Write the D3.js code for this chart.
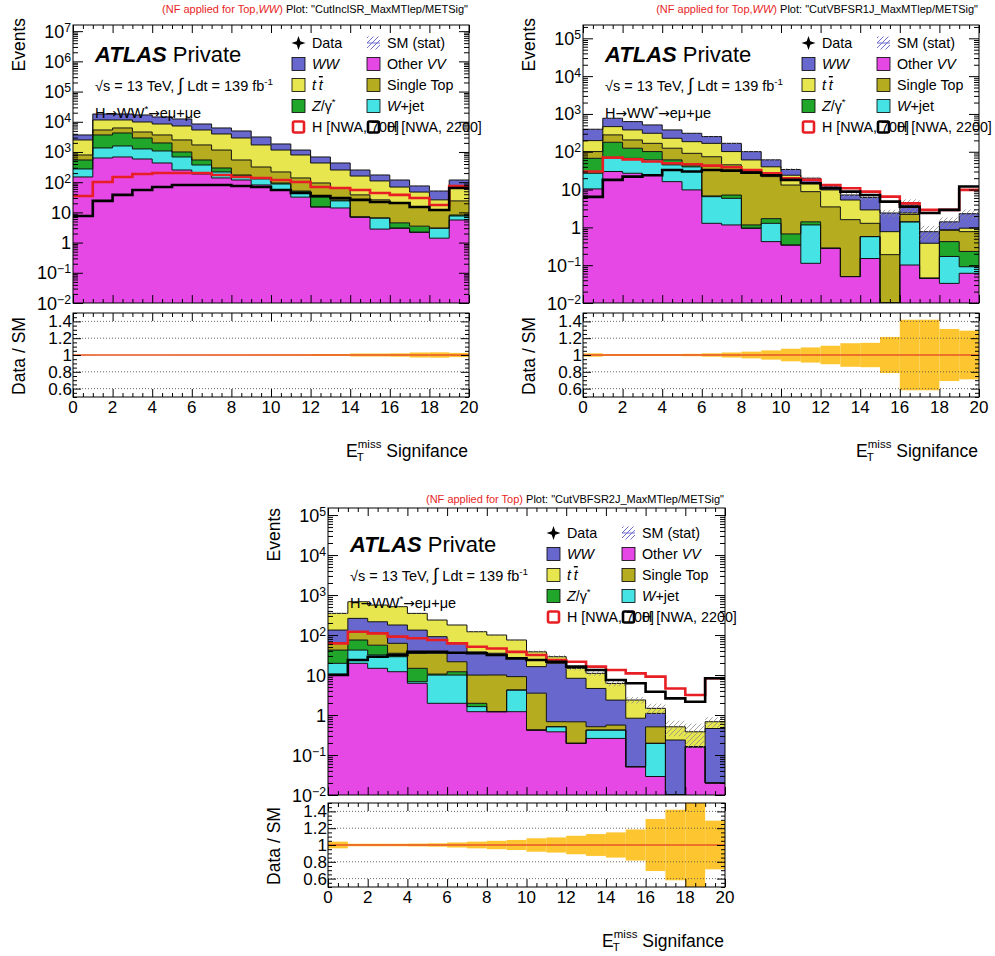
<!DOCTYPE html>
<html>
<head>
<meta charset="utf-8">
<script src="https://cdn.jsdelivr.net/npm/d3@7"></script>
<style>
  body { margin: 0; background: #fff; }
  text { font-family: "Liberation Sans", Arial, Helvetica, sans-serif; }
</style>
</head>
<body>
<div id="chart-area"></div>
<script>
// MET significance bins (width 1)
const binLow = [0,1,2,3,4,5,6,7,8,9,10,11,12,13,14,15,16,17,18,19]
const xTicks = [0,2,4,6,8,10,12,14,16,18,20]
const logTicks = [0.01,0.1,1,10,100,1000,1e4,1e5,1e6,1e7]
const ratioTicks = [0.6,0.8,1,1.2,1.4]
const ratioLabels = ['0.6','0.8','1','1.2','1.4']

// CutInclSR_MaxMTlep/METSig
const inclVV   = [149,633,683,586,432,253,187,138,118,81,55,32,15.1,14,7.0,2.8,3.0,2.2,1.4,5.6]
const inclWjet = [125,727,897,674,648,430,184,80,42,47,32,15,0,10,0,3.7,0,0,1.6,2.0]
const inclZ    = [269,2300,2680,1650,910,317,172,77,13,10,7,4,17,2,0,0,1.5,1.3,0,0.6]
const inclTop  = [253,1690,1980,1680,1670,1500,1167,865,370,180,124,87,62,38,31,19.5,16,11.6,9,15.8]
const inclTT   = [1704,6130,5240,5250,4790,4760,3640,2790,2367,1392,942,658,338,189,122,84,48.5,32,14,45]
const inclWW   = [1160,6620,6620,6960,5980,5130,3100,2290,2050,1430,680,364,251,179,93,63,49,28,25,49]
const inclH700  = [35,102,149,187,202,202,202,173,149,138,118,102,69,64,55,44,38,30,17.6,75]
const inclH2200 = [7.6,24,38,55,69,81,81,81,75,69,55,44,35,30,26,22,20.5,15.1,12.0,64]
const inclStat = [0.004,0.002,0.002,0.002,0.002,0.003,0.003,0.004,0.005,0.006,0.007,0.008,0.012,0.012,0.018,0.018,0.02,0.03,0.032,0.025]

// CutVBFSR1J_MaxMTlep/METSig
const vbf1VV   = [10.4,30,27,24,16.2,9.8,1.28,1.16,0.95,0.42,0.34,0.112,0.28,0.05,0.15,0,0.101,0.045,0.033,0.061]
const vbf1Wjet = [16.6,40,40,37,28.8,30,5.2,4.7,0,0.86,0,1.05,0,0,0.42,0,1.3,0,0.137,0.03]
const vbf1Z    = [40,108,57,40,16,5,0.3,1.3,0.21,0.42,0.33,0.24,0,0,0,0,0,0,0.25,0.14]
const vbf1Top  = [34,101,81,66,63,46,67,38,28.6,20.3,12.5,7.4,3.2,1.55,0.71,0.19,0.8,0,0.43,0.54]
const vbf1TT   = [96,183,173,141,103,94,93,56,31,18,10.8,6.5,6.3,3.7,1.62,0.58,0.2,0.335,0,0.18]
const vbf1WW   = [197,307,249,204,151,123,85,66,40,21,10,4.7,2.7,1.9,3.3,1.63,1.5,0.39,0.55,1.35]
const vbf1H700  = [30,70,63,55,49.5,46.6,43,38.8,33,27,20,18,13.2,10.8,8.8,6.5,4.3,2.9,2.9,9.8]
const vbf1H2200 = [6.4,18,22,24,33,30,33,31.7,28,24,18,14.7,10.8,8.8,7.2,4.8,3.5,2.4,2.9,12]
const vbf1Stat = [0.02,0.012,0.012,0.012,0.012,0.014,0.02,0.03,0.04,0.055,0.075,0.09,0.11,0.14,0.145,0.215,0.42,0.42,0.31,0.29]

// CutVBFSR2J_MaxMTlep/METSig
const vbf2VV   = [10.6,19.6,14.7,12.1,6.2,1.96,1.96,1.21,1.21,1.21,0.42,0.38,0.196,0.26,0.26,0.051,0.029,0,0.161,0.02]
const vbf2Wjet = [9,22.4,17,16.6,0.6,8,8,0.41,0,3.0,0,0.13,0,0.16,0.16,0,0.167,0,0,0]
const vbf2Z    = [22.4,33,24,6.3,7.9,0.6,2.1,0.34,0,0,0,0,0,0,0,0,0,0,0,0]
const vbf2Top  = [20,46,54,27,20,24.4,9.4,8.0,8.8,4.9,3.1,0.17,0.48,0.09,0.14,0,0.31,0,0,0]
const vbf2WW   = [71,140,105,116,98,56,40.5,28,25,17,12.7,18.9,7.6,4.1,1.8,0.78,0.59,0.237,0,0.44]
const vbf2TT   = [215,420,347,333,215,146,116,83,65,49,21.8,9.1,6.4,6.4,3.8,1.54,0.37,0.27,0.22,0.22]
const vbf2H700  = [62,121,110,91,83,75,62,51,46,38,31.6,23.7,21.5,16.2,13.3,11.0,9.1,4.6,3.16,8.3]
const vbf2H2200 = [10,23.7,28.7,31.6,38,38,36,35,31.6,26,23.7,21.5,16.2,13.3,7.5,6.2,3.8,2.6,2.15,8.3]
const vbf2Stat = [0.04,0.015,0.015,0.015,0.017,0.02,0.03,0.04,0.05,0.06,0.08,0.09,0.11,0.13,0.15,0.185,0.31,0.42,0.6,0.29]

const COLORS = { WW: '#6767cd', tt: '#e8e64e', Top: '#b5ad1f', Z: '#20a62b', Wjet: '#45e3e3', VV: '#e648e6' }
const RED = '#e81e25'

const svg = d3.select('#chart-area').append('svg')
    .attr('width', 995)
    .attr('height', 956)

const defs = svg.append('defs')
function makeHatch(id, color, width) {
    const pat = defs.append('pattern').attr('id', id)
        .attr('patternUnits', 'userSpaceOnUse').attr('width', 5).attr('height', 5)
    pat.append('path').attr('d', 'M-1,1 l2,-2 M0,5 l5,-5 M4,6 l2,-2')
        .attr('stroke', color).attr('stroke-width', width)
}
makeHatch('hatchGrey', '#8c8c8c', 0.8)
makeHatch('hatchBlue', '#6e6ed2', 1)

// text made of pieces: [string, style]
function rich(sel, parts) {
    let lift = 0
    parts.forEach(([t, s]) => {
        const ts = sel.append('tspan').text(t)
        if (s === 'sup') {
            ts.attr('font-size', '0.68em').attr('dy', -6 - lift); lift = -6
        } else {
            if (lift !== 0) { ts.attr('dy', -lift); lift = 0 }
            if (s === 'i') ts.attr('font-style', 'italic')
            if (s === 'ol') ts.attr('font-style', 'italic').attr('text-decoration', 'overline')
            if (s === 'b') ts.attr('font-weight', 'bold').attr('font-style', 'italic')
            if (s === 'red') ts.attr('fill', RED)
            if (s === 'redi') ts.attr('fill', RED).attr('font-style', 'italic')
            if (s === 'big') ts.attr('font-size', '1.25em')
            if (s === 'arrow') ts.attr('font-family', '"DejaVu Sans", sans-serif').attr('font-size', '0.95em')
        }
    })
}

function drawPanel(p) {
    const T = p.textTop
    const x = d3.scaleLinear().domain([0, 20]).range([p.left, p.right])
    const y = d3.scaleLog().domain([0.01, p.ymax]).range([p.mainBot, p.mainTop]).clamp(true)
    const yr = d3.scaleLinear().domain([0.5, 1.5]).range([p.ratioBot, p.ratioTop]).clamp(true)
    const g = svg.append('g')

    const clipId = 'clip' + p.id
    defs.append('clipPath').attr('id', clipId).append('rect')
        .attr('x', p.left).attr('y', p.mainTop)
        .attr('width', p.right - p.left).attr('height', p.mainBot - p.mainTop)

    // stacked backgrounds
    const rows = binLow.map((b, i) => {
        const r = { bin: b }
        p.order.forEach(k => { r[k] = p.stack[k][i] })
        return r
    })
    const series = d3.stack().keys(p.order)(rows)
    const safe = v => Math.max(v, 1e-4)
    const stepPts = s => s.flatMap((d, i) => [
        { x: binLow[i], lo: d[0], hi: d[1] },
        { x: binLow[i] + 1, lo: d[0], hi: d[1] }])
    const area = d3.area().x(d => x(d.x)).y0(d => y(safe(d.lo))).y1(d => y(safe(d.hi)))
    const edge = d3.line().x(d => x(d.x)).y(d => y(safe(d.hi)))

    const plot = g.append('g').attr('clip-path', `url(#${clipId})`)
    plot.selectAll('path.fill').data(series).enter().append('path')
        .attr('class', 'fill')
        .attr('d', s => area(stepPts(s)))
        .attr('fill', s => COLORS[s.key])
    plot.selectAll('path.edge').data(series).enter().append('path')
        .attr('class', 'edge')
        .attr('d', s => edge(stepPts(s)))
        .attr('fill', 'none').attr('stroke', '#111').attr('stroke-width', 1)

    // SM stat band
    const total = series[series.length - 1].map(d => d[1])
    plot.selectAll('rect.stat').data(total).enter().append('rect')
        .attr('class', 'stat')
        .attr('x', (d, i) => x(binLow[i]))
        .attr('width', x(1) - x(0))
        .attr('y', (d, i) => y(safe(d * (1 + p.stat[i]))))
        .attr('height', (d, i) => y(safe(d * (1 - p.stat[i]))) - y(safe(d * (1 + p.stat[i]))))
        .attr('fill', 'url(#hatchGrey)')

    // signals
    const sigPts = arr => arr.flatMap((v, i) => [{ x: binLow[i], v: v }, { x: binLow[i] + 1, v: v }])
    const sigLine = d3.line().x(d => x(d.x)).y(d => y(safe(d.v)))
    plot.append('path').attr('d', sigLine(sigPts(p.sigLow)))
        .attr('fill', 'none').attr('stroke', RED).attr('stroke-width', 2.6)
    plot.append('path').attr('d', sigLine(sigPts(p.sigHigh)))
        .attr('fill', 'none').attr('stroke', '#000').attr('stroke-width', 2.6)

    // ratio panel: stat band and reference line
    g.selectAll('rect.band').data(p.stat).enter().append('rect')
        .attr('class', 'band')
        .attr('x', (d, i) => x(binLow[i]))
        .attr('width', x(1) - x(0))
        .attr('y', d => yr(1 + d))
        .attr('height', d => yr(1 - d) - yr(1 + d))
        .attr('fill', '#fdc52f')
    g.selectAll('line.grid').data(ratioTicks.filter(v => v !== 1)).enter().append('line')
        .attr('class', 'grid')
        .attr('x1', p.left).attr('x2', p.right)
        .attr('y1', d => yr(d)).attr('y2', d => yr(d))
        .attr('stroke', '#444').attr('stroke-width', 0.8).attr('stroke-dasharray', '1,2')
    g.append('line')
        .attr('x1', p.left).attr('x2', p.right)
        .attr('y1', yr(1)).attr('y2', yr(1))
        .attr('stroke', '#e8552a').attr('stroke-width', 1.3)

    // ticks
    function ticks(gen, scale, values, len, tx, ty) {
        const a = g.append('g').attr('transform', `translate(${tx},${ty})`)
            .call(gen(scale).tickValues(values).tickSize(-len).tickFormat(''))
        a.select('.domain').remove()
        a.selectAll('line').attr('stroke', '#000')
    }
    const xMinor = d3.range(0, 20.001, 0.5).filter(v => v % 2 !== 0)
    const logMinor = logTicks.flatMap(d => [2, 3, 4, 5, 6, 7, 8, 9].map(m => d * m)).filter(v => v < p.ymax)
    const majors = logTicks.filter(v => v <= p.ymax)
    const rMinor = d3.range(0.5, 1.501, 0.05).filter(v => Math.abs(v * 5 - Math.round(v * 5)) > 0.01)
    ;[[p.mainTop, p.mainBot], [p.ratioTop, p.ratioBot]].forEach(([t, b]) => {
        ticks(d3.axisBottom, x, xTicks, 8, 0, b)
        ticks(d3.axisBottom, x, xMinor, 4, 0, b)
        ticks(d3.axisTop, x, xTicks, 8, 0, t)
        ticks(d3.axisTop, x, xMinor, 4, 0, t)
    })
    ticks(d3.axisLeft, y, majors, 10, p.left, 0)
    ticks(d3.axisLeft, y, logMinor, 5, p.left, 0)
    ticks(d3.axisRight, y, majors, 10, p.right, 0)
    ticks(d3.axisRight, y, logMinor, 5, p.right, 0)
    ticks(d3.axisLeft, yr, ratioTicks, 8, p.left, 0)
    ticks(d3.axisLeft, yr, rMinor, 4, p.left, 0)
    ticks(d3.axisRight, yr, ratioTicks, 8, p.right, 0)
    ticks(d3.axisRight, yr, rMinor, 4, p.right, 0)

    // frames
    ;[[p.mainTop, p.mainBot], [p.ratioTop, p.ratioBot]].forEach(([t, b]) => {
        g.append('rect').attr('x', p.left).attr('y', t)
            .attr('width', p.right - p.left).attr('height', b - t)
            .attr('fill', 'none').attr('stroke', '#000').attr('stroke-width', 1)
    })

    // tick labels
    majors.forEach(v => {
        const e = Math.round(Math.log10(v))
        const t = g.append('text').attr('x', p.left - 2).attr('y', y(v) + 6.5)
            .attr('text-anchor', 'end').attr('font-size', 18)
        if (e === 0) t.text('1')
        else if (e === 1) t.text('10')
        else rich(t, [['10', ''], [e < 0 ? '\u2212' + (-e) : String(e), 'sup']])
    })
    ratioTicks.forEach((v, i) => {
        g.append('text').attr('x', p.left - 1).attr('y', yr(v) + 6)
            .attr('text-anchor', 'end').attr('font-size', 17).text(ratioLabels[i])
    })
    xTicks.forEach(v => {
        g.append('text').attr('x', x(v)).attr('y', p.ratioBot + 16)
            .attr('text-anchor', 'middle').attr('font-size', 17).text(v)
    })

    // axis titles
    g.append('text').attr('transform', `translate(${p.left - 48},${T + 18}) rotate(-90)`)
        .attr('text-anchor', 'end').attr('font-size', 17.5).text('Events')
    g.append('text').attr('transform', `translate(${p.left - 48},${T + 356}) rotate(-90)`)
        .attr('text-anchor', 'middle').attr('font-size', 17.5).text('Data / SM')
    const xt = g.append('text').attr('x', p.right - 1).attr('y', T + 457)
        .attr('text-anchor', 'end').attr('font-size', 17.5)
    xt.append('tspan').text('E')
    xt.append('tspan').attr('font-size', 11.5).attr('dy', -9).text('miss')
    xt.append('tspan').attr('dy', 9).text(' Signifance')
    const sx = xt.node().getStartPositionOfChar(1).x
    g.append('text').attr('x', sx - 1).attr('y', T + 461).attr('font-size', 11.5).text('T')

    // header
    const hd = g.append('text').attr('x', p.right - 1).attr('y', T + 13)
        .attr('text-anchor', 'end').attr('font-size', 11)
    rich(hd, p.header)

    // labels
    const at = g.append('text').attr('x', p.left + 22).attr('y', T + 62).attr('font-size', 22)
    rich(at, [['ATLAS', 'b'], [' Private', '']])
    const en = g.append('text').attr('x', p.left + 22).attr('y', T + 91).attr('font-size', 14.5)
    rich(en, [['\u221As = 13 TeV, ', ''], ['\u222B', 'big'], [' Ldt = 139 fb', ''], ['-1', 'sup']])
    const ch = g.append('text').attr('x', p.left + 22).attr('y', T + 118).attr('font-size', 14.5)
    rich(ch, [['H', ''], ['\u2192', 'arrow'], ['WW', ''], ['*', 'sup'], ['\u2192', 'arrow'], ['e\u03BC+\u03BCe', '']])

    // legend
    const c1 = p.left + 219, c2 = p.left + 294
    const rowY = i => T + 43 + 21 * i
    const entries = [
        { c: c1, r: 0, type: 'data', parts: [['Data', '']] },
        { c: c2, r: 0, type: 'stat', parts: [['SM (stat)', '']] },
        { c: c1, r: 1, type: 'WW', parts: [['WW', 'i']] },
        { c: c2, r: 1, type: 'VV', parts: [['Other ', ''], ['VV', 'i']] },
        { c: c1, r: 2, type: 'tt', parts: [['t', 'i'], ['\u2009', ''], ['t', 'ol']] },
        { c: c2, r: 2, type: 'Top', parts: [['Single Top', '']] },
        { c: c1, r: 3, type: 'Z', parts: [['Z', 'i'], ['/\u03B3', ''], ['*', 'sup']] },
        { c: c2, r: 3, type: 'Wjet', parts: [[' ', ''], ['W', 'i'], ['+jet', '']] },
        { c: c1, r: 4, type: 'sigLow', parts: [['H [NWA, 700]', '']] },
        { c: c2, r: 4, type: 'sigHigh', parts: [['H [NWA, 2200]', '']] }
    ]
    entries.forEach(e => {
        const cy = rowY(e.r)
        if (e.type === 'data') {
            g.append('path').attr('transform', `translate(${e.c + 6.5},${cy})`)
                .attr('d', 'M0,-7 L1.8,-1.8 L7,0 L1.8,1.8 L0,7 L-1.8,1.8 L-7,0 L-1.8,-1.8 Z')
                .attr('fill', '#000')
        } else if (e.type === 'stat') {
            g.append('rect').attr('x', e.c).attr('y', cy - 6.5).attr('width', 13).attr('height', 13)
                .attr('fill', 'url(#hatchBlue)')
            g.append('line').attr('x1', e.c).attr('x2', e.c + 13).attr('y1', cy).attr('y2', cy)
                .attr('stroke', '#6e6ed2').attr('stroke-width', 1)
        } else if (e.type === 'sigLow' || e.type === 'sigHigh') {
            g.append('rect').attr('x', e.c + 1).attr('y', cy - 5.5).attr('width', 11).attr('height', 11)
                .attr('rx', 1.5).attr('fill', '#fff').attr('fill-opacity', 0)
                .attr('stroke', e.type === 'sigLow' ? RED : '#000').attr('stroke-width', 2.6)
        } else {
            g.append('rect').attr('x', e.c).attr('y', cy - 6.5).attr('width', 13).attr('height', 13)
                .attr('fill', COLORS[e.type]).attr('stroke', '#000').attr('stroke-width', 0.8)
        }
        const t = g.append('text').attr('x', e.c + 20).attr('y', cy + 5).attr('font-size', 14.3)
        rich(t, e.parts)
    })
}

const panels = [
    { id: 1, left: 73, right: 469, mainTop: 25, mainBot: 303, ratioTop: 313, ratioBot: 397, textTop: 0,
      ymax: 1.6e7, order: ['VV', 'Wjet', 'Z', 'Top', 'tt', 'WW'],
      stack: { VV: inclVV, Wjet: inclWjet, Z: inclZ, Top: inclTop, tt: inclTT, WW: inclWW },
      sigLow: inclH700, sigHigh: inclH2200, stat: inclStat,
      header: [['(NF applied for Top,', 'red'], ['WW', 'redi'], [')', 'red'], [' Plot: "CutInclSR_MaxMTlep/METSig"', '']] },
    { id: 2, left: 583, right: 979, mainTop: 25, mainBot: 303, ratioTop: 313, ratioBot: 397, textTop: 0,
      ymax: 2.25e5, order: ['VV', 'Wjet', 'Z', 'Top', 'tt', 'WW'],
      stack: { VV: vbf1VV, Wjet: vbf1Wjet, Z: vbf1Z, Top: vbf1Top, tt: vbf1TT, WW: vbf1WW },
      sigLow: vbf1H700, sigHigh: vbf1H2200, stat: vbf1Stat,
      header: [['(NF applied for Top,', 'red'], ['WW', 'redi'], [')', 'red'], [' Plot: "CutVBFSR1J_MaxMTlep/METSig"', '']] },
    { id: 3, left: 328, right: 725, mainTop: 508, mainBot: 795, ratioTop: 803, ratioBot: 887, textTop: 490,
      ymax: 1.5e5, order: ['VV', 'Wjet', 'Z', 'Top', 'WW', 'tt'],
      stack: { VV: vbf2VV, Wjet: vbf2Wjet, Z: vbf2Z, Top: vbf2Top, tt: vbf2TT, WW: vbf2WW },
      sigLow: vbf2H700, sigHigh: vbf2H2200, stat: vbf2Stat,
      header: [['(NF applied for Top)', 'red'], [' Plot: "CutVBFSR2J_MaxMTlep/METSig"', '']] }
]
panels.forEach(drawPanel)
</script>
</body>
</html>
